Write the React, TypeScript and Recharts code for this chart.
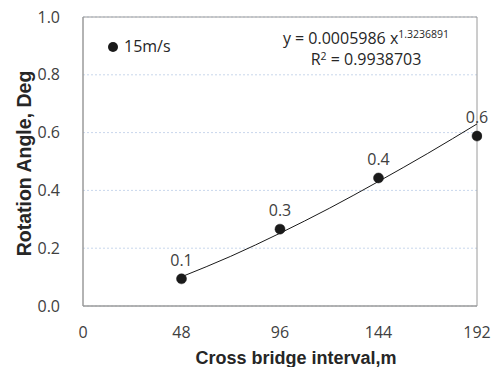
import React from "react";
import { ComposedChart, Line, XAxis, YAxis, CartesianGrid, LabelList, ReferenceArea, Label } from "recharts";

const intervals = [48, 96, 144, 192];
const angles = [0.094, 0.266, 0.443, 0.588];
const pointLabels = ["0.1", "0.3", "0.4", "0.6"];

const trendX = [48, 72, 96, 120, 144, 168, 192];
const trendY = [0.101, 0.172, 0.252, 0.338, 0.431, 0.528, 0.63];

const xTicks = [0, 48, 96, 144, 192];
const yTicks = [0, 0.2, 0.4, 0.6, 0.8, 1.0];

const seriesName = "15m/s";
const equation = "y = 0.0005986 x";
const exponent = "1.3236891";
const r2Value = "0.9938703";

const pointRows = intervals.map((x, i) => ({ x, angle: angles[i], label: pointLabels[i] }));
const trendRows = trendX.map((x, i) => ({ x, trend: trendY[i] }));

const NUM_FONT = "'Open Sans', sans-serif";
const TEXT_COLOR = "#404040";

export default function App() {
  return (
    <div style={{ position: "absolute", left: 0, top: 0, width: 492, height: 367, background: "#fff" }}>
      <ComposedChart width={492} height={367} margin={{ top: 17, right: 15, left: 0, bottom: 0 }}>
        <CartesianGrid horizontal vertical={false} stroke="#c9d7ec" strokeDasharray="2 2" />
        <XAxis
          type="number"
          dataKey="x"
          domain={[0, 192]}
          ticks={xTicks}
          height={61}
          tickLine={false}
          tickSize={0}
          tickMargin={21}
          axisLine={{ stroke: "#9a9a9a" }}
          tick={{ fill: TEXT_COLOR, fontSize: 16, fontFamily: NUM_FONT }}
          allowDataOverflow
        >
          <Label
            content={(props: any) => {
              const vb = props.viewBox || { x: 83, y: 306, width: 394, height: 61 };
              return (
                <text
                  x={vb.x + vb.width / 2 + 16}
                  y={vb.y + vb.height - 3}
                  textAnchor="middle"
                  fontFamily="'Liberation Sans', Arial, sans-serif"
                  fontWeight="bold"
                  fontSize={18}
                  fill="#262626"
                >
                  Cross bridge interval,m
                </text>
              );
            }}
          />
        </XAxis>
        <YAxis
          type="number"
          domain={[0, 1]}
          ticks={yTicks}
          width={83}
          tickLine={false}
          tickSize={0}
          tickMargin={23}
          axisLine={{ stroke: "#9a9a9a" }}
          tickFormatter={(v: number) => v.toFixed(1)}
          tick={{ fill: TEXT_COLOR, fontSize: 16, fontFamily: NUM_FONT }}
        >
          <Label
            content={(props: any) => {
              const vb = props.viewBox || { x: 0, y: 17, width: 83, height: 289 };
              const cx = 31;
              const cy = vb.y + vb.height / 2 + 2;
              return (
                <text
                  x={cx}
                  y={cy}
                  transform={`rotate(-90 ${cx} ${cy})`}
                  textAnchor="middle"
                  fontFamily="'Liberation Sans', Arial, sans-serif"
                  fontWeight="bold"
                  fontSize={19.5}
                  fill="#262626"
                >
                  Rotation Angle, Deg
                </text>
              );
            }}
          />
        </YAxis>
        <ReferenceArea x1={0} x2={192} y1={0} y2={1} fill="none" stroke="#9a9a9a" strokeWidth={1} />
        <Line
          data={trendRows}
          dataKey="trend"
          type="monotone"
          stroke="#1a1a1a"
          strokeWidth={1}
          dot={false}
          activeDot={false}
          isAnimationActive={false}
        />
        <Line
          data={pointRows}
          dataKey="angle"
          stroke="none"
          dot={{ r: 5, fill: "#1a1a1a", stroke: "#1a1a1a", strokeWidth: 0.5, clipDot: false }}
          activeDot={false}
          isAnimationActive={false}
        >
          <LabelList
            dataKey="label"
            position="top"
            offset={13}
            fill={TEXT_COLOR}
            fontSize={16}
            fontFamily={NUM_FONT}
          />
        </Line>
      </ComposedChart>

      <div
        style={{
          position: "absolute",
          left: 108,
          top: 41.5,
          width: 10,
          height: 10,
          borderRadius: "50%",
          background: "#1a1a1a",
        }}
      />
      <div
        style={{
          position: "absolute",
          left: 124,
          top: 36,
          fontFamily: NUM_FONT,
          fontSize: 16,
          lineHeight: "20px",
          color: "#262626",
          whiteSpace: "nowrap",
        }}
      >
        {seriesName}
      </div>

      <div
        style={{
          position: "absolute",
          left: 246,
          width: 240,
          top: 29,
          textAlign: "center",
          fontFamily: NUM_FONT,
          fontSize: 16,
          lineHeight: "19px",
          color: "#262626",
          whiteSpace: "nowrap",
        }}
      >
        <div>
          {equation}
          <span style={{ fontSize: 10.5, position: "relative", top: -6 }}>{exponent}</span>
        </div>
        <div>
          R<span style={{ fontSize: 10.5, position: "relative", top: -5 }}>2</span> = {r2Value}
        </div>
      </div>
    </div>
  );
}
